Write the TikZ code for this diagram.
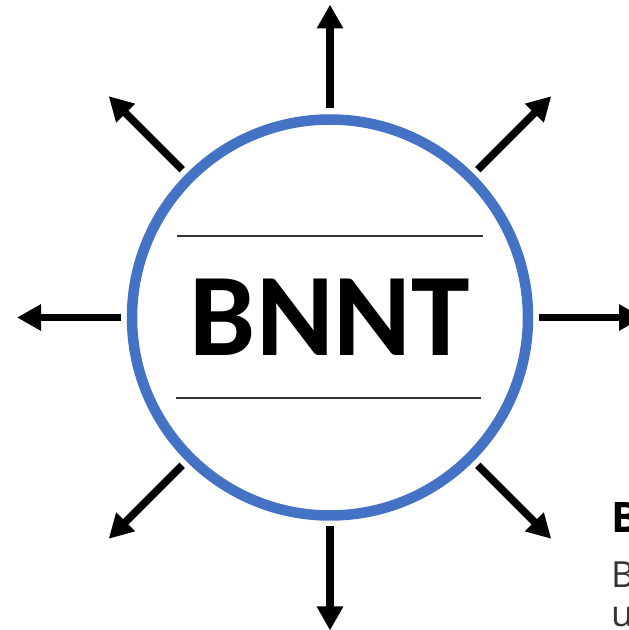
\documentclass[tikz,border=0pt]{standalone}
\usepackage{fontspec}
\newfontfamily\carlito{Carlito}
\newfontfamily\opensans{Open Sans}
\usetikzlibrary{arrows.meta}
\definecolor{ringblue}{HTML}{4472C4}
\definecolor{rulegray}{HTML}{333333}
\tikzset{
  ring/.style={circle, draw=ringblue, line width=10.5pt, minimum size=396pt, inner sep=0pt},
  ray/.style={line width=7.5pt, -{Triangle[length=24pt,width=25pt]}},
  rule/.style={draw=rulegray, line width=1.3pt},
}
\begin{document}
\begin{tikzpicture}[x=1pt,y=1pt]
\clip (0,0) rectangle (629,630);
\node [ring] (ring) at (330,312.5) {};
\node [inner sep=0pt] (title) at (ring.center) {\carlito\bfseries\fontsize{118}{120}\selectfont BNNT};
\draw [rule] ([shift={(-153,81.5)}]ring.center) -- ++(306,0);
\draw [rule] ([shift={(-154,-80.5)}]ring.center) -- ++(305,0);
\foreach \a in {0,45,...,315} {
  \coordinate (s\a) at ([shift={(ring.center)}]\a:209);
  \coordinate (t\a) at ([shift={(ring.center)}]\a:313);
  \draw [ray] (s\a) -- (t\a);
}
\node [anchor=base west, inner sep=0pt] (cap) at (611,97) {\opensans\bfseries\fontsize{42}{48}\selectfont B};
\node [anchor=base west, inner sep=0pt, text=rulegray] (line1) at (611,42) {\opensans\fontsize{36}{42}\selectfont B};
\node [anchor=base west, inner sep=0pt, text=rulegray] (line2) at (611,4) {\opensans\fontsize{36}{42}\selectfont u};
\end{tikzpicture}
\end{document}
